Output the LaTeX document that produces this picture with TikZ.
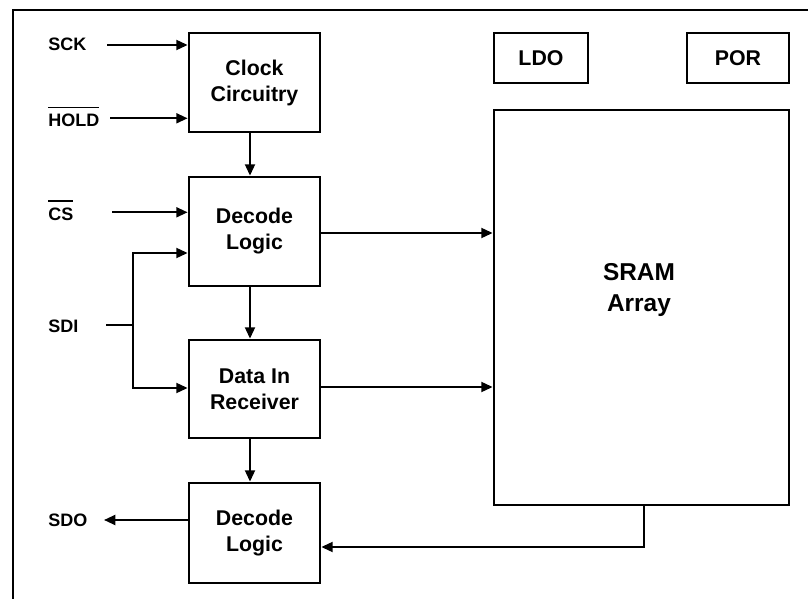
\documentclass[tikz,border=0pt]{standalone}
\usepackage{fontspec}
\setmainfont{Liberation Sans}
\usetikzlibrary{arrows.meta}
\newcommand\myovl[1]{\leavevmode\vbox{\hrule height 1.4pt\kern 4.5pt\hbox{#1}}}
\tikzset{
  box/.style={draw, line width=2.1pt, inner sep=0pt, align=center,
    font=\bfseries\fontsize{16}{19.5}\selectfont},
  pin/.style={anchor=base west, inner sep=0pt, font=\bfseries\fontsize{13.5}{16}\selectfont},
  arr/.style={line width=1.5pt, -{Triangle[length=8.5pt,width=7.5pt]}},
  wire/.style={line width=1.5pt},
}
\begin{document}
\begin{tikzpicture}[x=0.75pt,y=-0.75pt]
\useasboundingbox (0,0) rectangle (808,599);
% frame
\draw[line width=1.6pt] (13,599) -- (13,10) -- (808,10);
% boxes
\node[box, minimum width=98.25pt, minimum height=74.25pt] (clk) at (254.5,82.5) {Clock\\Circuitry};
\node[box, minimum width=98.25pt, minimum height=81.75pt] (dec1) at (254.5,231.5) {Decode\\Logic};
\node[box, minimum width=98.25pt, minimum height=73.5pt] (din) at (254.5,389) {Data In\\Receiver};
\node[box, minimum width=98.25pt, minimum height=75pt] (dec2) at (254.5,533) {Decode\\Logic};
\node[box, minimum width=70.5pt, minimum height=37.5pt] (ldo) at (541,58) {LDO};
\node[box, minimum width=76.5pt, minimum height=37.5pt] (por) at (738,58) {POR};
\node[box, minimum width=221.25pt, minimum height=296.25pt] (sram) at (641.5,307.5) {};
\node[font=\bfseries\fontsize{18.3}{23}\selectfont, align=center, inner sep=0pt] (sramt) at (639,290) {SRAM\\Array};
% pin labels
\node[pin] (sck) at (48,51) {SCK};
\node[pin] (hold) at (48,127) {\myovl{HOLD}};
\node[pin] (cs) at (48,220.5) {\myovl{CS}};
\node[pin] (sdi) at (48,333) {SDI};
\node[pin] (sdo) at (48,526) {SDO};
% coordinates
\coordinate (sckE) at (107,45);
\coordinate (holdE) at (110,118.3);
\coordinate (csE) at (112,212.3);
\coordinate (sdiE) at (106,325);
\coordinate (sdiJ) at (133,325);
\coordinate (sdiT) at (133,253);
\coordinate (sdiB) at (133,388);
\coordinate (sdoE) at (104,520);
\coordinate (v1) at (250,0);
\coordinate (fbT) at (644,0);
\coordinate (fbB) at (644,547);
% input arrows
\draw[arr] (sckE) -- (sckE -| clk.west);
\draw[arr] (holdE) -- (holdE -| clk.west);
\draw[arr] (csE) -- (csE -| dec1.west);
\draw[wire] (sdiE) -- (sdiJ);
\draw[arr] (sdiJ) -- (sdiT) -- (sdiT -| dec1.west);
\draw[arr] (sdiJ) -- (sdiB) -- (sdiB -| din.west);
\draw[arr] (sdoE -| dec2.west) -- (sdoE);
% vertical flow
\draw[arr] (v1 |- clk.south) -- (v1 |- dec1.north);
\draw[arr] (v1 |- dec1.south) -- (v1 |- din.north);
\draw[arr] (v1 |- din.south) -- (v1 |- dec2.north);
% to SRAM
\draw[arr] (dec1.east |- 0,233) -- (sram.west |- 0,233);
\draw[arr] (din.east |- 0,387) -- (sram.west |- 0,387);
% feedback
\draw[arr] (fbT |- sram.south) -- (fbB) -- (fbB -| dec2.east);
\end{tikzpicture}
\end{document}
